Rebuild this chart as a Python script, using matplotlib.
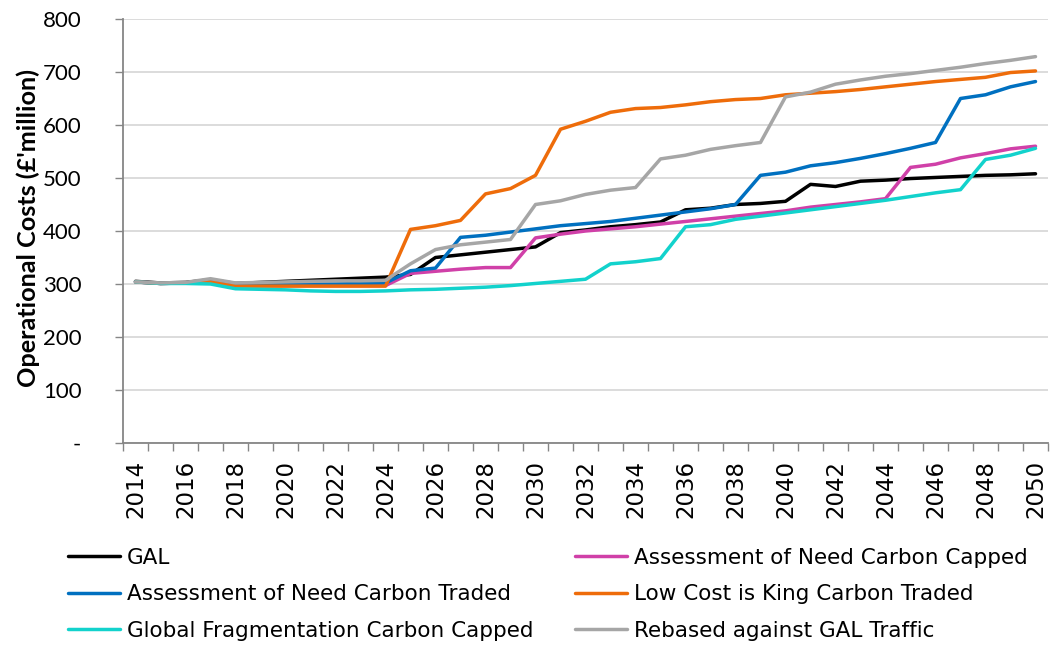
import matplotlib
matplotlib.use("Agg")
import matplotlib.pyplot as plt
from matplotlib.ticker import FixedLocator, FuncFormatter

years = list(range(2014, 2051))

gal = [305, 302, 303, 308, 301, 303, 305, 307, 309, 311, 313, 318, 350, 355, 360,
       365, 370, 397, 402, 408, 412, 417, 440, 443, 450, 452, 456, 488, 484, 494,
       496, 499, 501, 503, 505, 506, 508]
aon_capped = [304, 301, 302, 304, 298, 297, 297, 297, 297, 297, 297, 320, 324, 328,
              331, 331, 387, 394, 400, 404, 408, 413, 418, 423, 428, 433, 438, 445,
              450, 455, 461, 520, 526, 538, 546, 555, 560]
aon_traded = [304, 301, 302, 305, 299, 299, 300, 300, 300, 301, 302, 325, 330, 388,
              392, 398, 404, 410, 414, 418, 424, 430, 436, 442, 450, 505, 511, 523,
              529, 537, 546, 556, 567, 650, 657, 672, 682]
lck_traded = [304, 301, 302, 304, 296, 296, 296, 296, 296, 296, 296, 403, 410, 420,
              470, 480, 505, 592, 607, 624, 631, 633, 638, 644, 648, 650, 657, 660,
              663, 667, 672, 677, 682, 686, 690, 699, 702]
gf_capped = [304, 301, 301, 300, 291, 290, 289, 287, 286, 286, 287, 289, 290, 292,
             294, 297, 301, 305, 309, 338, 342, 348, 408, 412, 422, 428, 434, 440,
             446, 452, 458, 465, 472, 478, 535, 543, 556]
rebased = [304, 302, 303, 310, 302, 303, 304, 305, 306, 306, 307, 338, 365, 374,
           379, 384, 450, 457, 469, 477, 482, 536, 543, 554, 561, 567, 653, 662,
           677, 685, 692, 697, 703, 709, 716, 722, 729]

series = [
    ("GAL", gal, "#000000"),
    ("Assessment of Need Carbon Capped", aon_capped, "#D040A8"),
    ("Assessment of Need Carbon Traded", aon_traded, "#0070C0"),
    ("Low Cost is King Carbon Traded", lck_traded, "#EE6C0A"),
    ("Global Fragmentation Carbon Capped", gf_capped, "#12D2CC"),
    ("Rebased against GAL Traffic", rebased, "#A6A6A6"),
]

plt.rcParams["font.family"] = ["Lato", "DejaVu Sans"]
wide = ["DejaVu Sans"]

fig = plt.figure(figsize=(10.52, 6.48), dpi=100)
ax = fig.add_axes([123 / 1052, 1 - 443 / 648, 925 / 1052, 424 / 648])

lines = {}
for name, vals, col in series:
    ln, = ax.plot(years, vals, color=col, lw=2.5, label=name,
                  solid_joinstyle="round", solid_capstyle="round")
    lines[name] = ln

ax.set_xlim(2013.5, 2050.5)
ax.set_ylim(0, 800)
ax.set_yticks(range(0, 801, 100))
ax.yaxis.set_major_formatter(FuncFormatter(lambda v, p: "-" if v == 0 else "%d" % v))
ax.grid(axis="y", color="#D9D9D9", lw=1.3)
ax.set_axisbelow(True)

# category axis: tick marks between years, labels on every other year
ax.xaxis.set_major_locator(FixedLocator([y - 0.5 for y in range(2014, 2052)]))
ax.xaxis.set_major_formatter(FuncFormatter(lambda v, p: ""))
ax.xaxis.set_minor_locator(FixedLocator(list(range(2014, 2051, 2))))
ax.xaxis.set_minor_formatter(FuncFormatter(lambda v, p: "%d" % round(v)))
ax.tick_params(axis="x", which="minor", length=0, labelsize=16.5, labelrotation=90, pad=12)
ax.tick_params(axis="x", which="major", length=6, color="#868686", width=1)
ax.tick_params(axis="y", length=6, color="#868686", width=1, labelsize=16, pad=24)
for t in ax.get_xminorticklabels():
    t.set_family(wide)

for s in ["top", "right"]:
    ax.spines[s].set_visible(False)
for s in ["left", "bottom"]:
    ax.spines[s].set_color("#868686")
    ax.spines[s].set_linewidth(1.3)

fig.text(28 / 1052, 1 - 228 / 648, "Operational Costs (\u00a3'million)", rotation=90,
         ha="center", va="center", fontsize=18.2, fontweight="bold")

left_names = ["GAL", "Assessment of Need Carbon Traded", "Global Fragmentation Carbon Capped"]
right_names = ["Assessment of Need Carbon Capped", "Low Cost is King Carbon Traded",
               "Rebased against GAL Traffic"]
for names, x0 in [(left_names, 68), (right_names, 575)]:
    leg = fig.legend([lines[n] for n in names], names, loc="upper left",
                     bbox_to_anchor=(x0 / 1052, 1 - 548 / 648), frameon=False,
                     prop={"family": wide, "size": 15.5}, borderpad=0,
                     borderaxespad=0, handlelength=2.42, handletextpad=0.33,
                     labelspacing=0.76)
    for h in leg.legend_handles:
        h.set_linewidth(2.5)

fig.savefig("out.png", dpi=100)
